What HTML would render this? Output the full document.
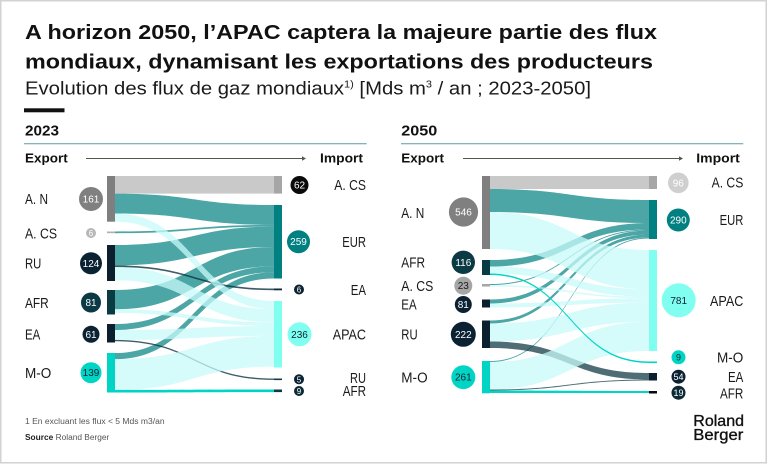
<!DOCTYPE html>
<html><head><meta charset="utf-8"><style>
html,body{margin:0;padding:0;background:#fff;}
svg{display:block;font-family:"Liberation Sans",Arial,sans-serif;}
</style></head><body>
<svg width="768" height="464" viewBox="0 0 768 464" xmlns="http://www.w3.org/2000/svg">
<rect x="0.75" y="0.75" width="765.5" height="462" fill="#fff" stroke="#d2d2d2" stroke-width="1.5"/>

<!-- Title -->
<text x="25" y="39" font-size="20" font-weight="bold" fill="#111" textLength="632" lengthAdjust="spacingAndGlyphs">A horizon 2050, l’APAC captera la majeure partie des flux</text>
<text x="25" y="68.3" font-size="20" font-weight="bold" fill="#111" textLength="628" lengthAdjust="spacingAndGlyphs">mondiaux, dynamisant les exportations des producteurs</text>
<text x="25" y="94.3" font-size="18.5" fill="#1a1a1a" textLength="566" lengthAdjust="spacingAndGlyphs">Evolution des flux de gaz mondiaux<tspan font-size="10" dy="-7">1)</tspan><tspan dy="7"> [Mds m</tspan><tspan font-size="10" dy="-7">3</tspan><tspan dy="7"> / an ;  2023-2050]</tspan></text>
<rect x="24" y="108.3" width="40.5" height="4" fill="#111"/>

<!-- Section headers -->
<text x="25" y="135.3" font-size="14.5" font-weight="bold" fill="#111" textLength="34" lengthAdjust="spacingAndGlyphs">2023</text>
<line x1="24" y1="143.7" x2="366.7" y2="143.7" stroke="#5a9ea2" stroke-width="1"/>
<text x="401.3" y="135.3" font-size="14.5" font-weight="bold" fill="#111" textLength="36" lengthAdjust="spacingAndGlyphs">2050</text>
<line x1="401" y1="143.7" x2="743.3" y2="143.7" stroke="#5a9ea2" stroke-width="1"/>

<text x="25" y="162.5" font-size="13" font-weight="bold" fill="#111" textLength="42.7" lengthAdjust="spacingAndGlyphs">Export</text>
<text x="320" y="162.5" font-size="13" font-weight="bold" fill="#111" textLength="43" lengthAdjust="spacingAndGlyphs">Import</text>
<line x1="86" y1="158.5" x2="304" y2="158.5" stroke="#555" stroke-width="1"/>
<path d="M306,158.5 L302,156.3 L302,160.7 Z" fill="#555"/>
<text x="401.3" y="162.5" font-size="13" font-weight="bold" fill="#111" textLength="42.7" lengthAdjust="spacingAndGlyphs">Export</text>
<text x="696.3" y="162.5" font-size="13" font-weight="bold" fill="#111" textLength="43.5" lengthAdjust="spacingAndGlyphs">Import</text>
<line x1="463" y1="158.5" x2="681" y2="158.5" stroke="#555" stroke-width="1"/>
<path d="M683,158.5 L679,156.3 L679,160.7 Z" fill="#555"/>

<!-- ===== 2023 flows ===== -->
<g>
<path d="M115,176 L274,176 L274,193.6 L115,193.6 Z" fill="#c9c9c9"/>
<g fill="#008080" fill-opacity="0.7">
<path d="M115,193.6 C194.5,193.6 194.5,205 274,205 L274,224.9 C194.5,224.9 194.5,213.5 115,213.5 Z"/>
<path d="M115,231.5 C194.5,231.5 194.5,224.9 274,224.9 L274,226.6 C194.5,226.6 194.5,233.2 115,233.2 Z"/>
<path d="M115,245 C194.5,245 194.5,226.6 274,226.6 L274,247 C194.5,247 194.5,265.4 115,265.4 Z"/>
<path d="M115,290 C194.5,290 194.5,247 274,247 L274,266.3 C194.5,266.3 194.5,309.3 115,309.3 Z"/>
<path d="M115,324 C194.5,324 194.5,266.3 274,266.3 L274,272.3 C194.5,272.3 194.5,330 115,330 Z"/>
<path d="M115,353 C194.5,353 194.5,272.3 274,272.3 L274,278.5 C194.5,278.5 194.5,359.2 115,359.2 Z"/>
</g>
<g fill="#0b3440" fill-opacity="0.8">
<path d="M115,265.4 C194.5,265.4 194.5,288.5 274,288.5 L274,290.2 C194.5,290.2 194.5,267.1 115,267.1 Z"/>
<path d="M115,339.9 C194.5,339.9 194.5,378.5 274,378.5 L274,379.9 C194.5,379.9 194.5,341.3 115,341.3 Z"/>
</g>
<g fill="#c7f9f8" fill-opacity="0.75">
<path d="M115,213.5 C194.5,213.5 194.5,301 274,301 L274,309.2 C194.5,309.2 194.5,221.7 115,221.7 Z"/>
<path d="M115,267.1 C194.5,267.1 194.5,309.2 274,309.2 L274,322.3 C194.5,322.3 194.5,280.2 115,280.2 Z"/>
<path d="M115,309.3 C194.5,309.3 194.5,322.3 274,322.3 L274,326 C194.5,326 194.5,313 115,313 Z"/>
<path d="M115,330 C194.5,330 194.5,326 274,326 L274,335.9 C194.5,335.9 194.5,339.9 115,339.9 Z"/>
<path d="M115,359.2 C194.5,359.2 194.5,335.9 274,335.9 L274,366.6 C194.5,366.6 194.5,389.9 115,389.9 Z"/>
</g>
<path d="M115,389.9 C194.5,389.9 194.5,389.5 274,389.5 L274,392.1 C194.5,392.1 194.5,392.5 115,392.5 Z" fill="#00d5c5"/>
</g>

<!-- 2023 nodes -->
<rect x="107" y="176" width="8" height="45.7" fill="#7f7f7f"/>
<rect x="107" y="231.5" width="8" height="1.7" fill="#b0b0b0"/>
<rect x="107" y="245" width="8" height="36" fill="#0b1f2e"/>
<rect x="107" y="290" width="8" height="24.5" fill="#083c42"/>
<rect x="107" y="324" width="8" height="18.5" fill="#0b1f2e"/>
<rect x="107" y="353" width="8" height="39.5" fill="#00d5c5"/>
<rect x="274" y="176" width="8" height="17.6" fill="#a6a6a6"/>
<rect x="274" y="205" width="8" height="73.5" fill="#008080"/>
<rect x="274" y="288.5" width="8" height="1.8" fill="#0b2a36"/>
<rect x="274" y="301" width="8" height="66.5" fill="#80fff0"/>
<rect x="274" y="378.5" width="8" height="1.6" fill="#1b3a48"/>
<rect x="274" y="389.5" width="8" height="2.6" fill="#0b3a44"/>

<!-- 2023 labels -->
<g font-size="15" fill="#1a1a1a">
<text x="25" y="204" textLength="23" lengthAdjust="spacingAndGlyphs">A. N</text>
<text x="25" y="238.5" textLength="32" lengthAdjust="spacingAndGlyphs">A. CS</text>
<text x="25" y="268.5" textLength="16.3" lengthAdjust="spacingAndGlyphs">RU</text>
<text x="25" y="308" textLength="23.7" lengthAdjust="spacingAndGlyphs">AFR</text>
<text x="25" y="339.5" textLength="15.3" lengthAdjust="spacingAndGlyphs">EA</text>
<text x="25" y="378" textLength="26.3" lengthAdjust="spacingAndGlyphs">M-O</text>
<text x="334.3" y="190" textLength="31.7" lengthAdjust="spacingAndGlyphs">A. CS</text>
<text x="342.3" y="247" textLength="23.7" lengthAdjust="spacingAndGlyphs">EUR</text>
<text x="350.7" y="295" textLength="15.3" lengthAdjust="spacingAndGlyphs">EA</text>
<text x="332.7" y="339.5" textLength="33.3" lengthAdjust="spacingAndGlyphs">APAC</text>
<text x="350" y="383" textLength="16" lengthAdjust="spacingAndGlyphs">RU</text>
<text x="342.7" y="396" textLength="23.3" lengthAdjust="spacingAndGlyphs">AFR</text>
</g>

<!-- 2023 circles -->
<g font-size="10" text-anchor="middle">
<circle cx="91" cy="199" r="12" fill="#808080"/><text x="91" y="202.5" fill="#fff">161</text>
<circle cx="91" cy="233" r="5" fill="#b8b8b8"/><text x="91" y="236" fill="#fff" font-size="8">6</text>
<circle cx="91" cy="263.3" r="11" fill="#0b2233"/><text x="91" y="266.8" fill="#fff">124</text>
<circle cx="91" cy="302.5" r="10" fill="#0b3a44"/><text x="91" y="306" fill="#fff">81</text>
<circle cx="91" cy="334.3" r="8.5" fill="#0b2233"/><text x="91" y="337.8" fill="#fff">61</text>
<circle cx="91" cy="372.7" r="10.5" fill="#00d5c5"/><text x="91" y="376.2" fill="#0b2233">139</text>
<circle cx="299.5" cy="185" r="9" fill="#0a0a0a"/><text x="299.5" y="188.5" fill="#fff">62</text>
<circle cx="298.5" cy="241.7" r="11.5" fill="#008080"/><text x="298.5" y="245.2" fill="#fff">259</text>
<circle cx="299" cy="289.5" r="5" fill="#0b2233"/><text x="299" y="292.5" fill="#fff" font-size="8">6</text>
<circle cx="299.5" cy="334.3" r="12" fill="#80fff0"/><text x="299.5" y="337.8" fill="#0b2233">236</text>
<circle cx="299" cy="379.3" r="5" fill="#0b2233"/><text x="299" y="382.3" fill="#fff" font-size="8">5</text>
<circle cx="299" cy="391" r="5" fill="#0b2a36"/><text x="299" y="394" fill="#fff" font-size="8">9</text>
</g>

<!-- ===== 2050 flows ===== -->
<g>
<path d="M490,176 L649,176 L649,189 L490,189 Z" fill="#c9c9c9"/>
<g fill="#008080" fill-opacity="0.7">
<path d="M490,189 C569.5,189 569.5,200 649,200 L649,223 C569.5,223 569.5,212 490,212 Z"/>
<path d="M490,260 C569.5,260 569.5,223 649,223 L649,229.5 C569.5,229.5 569.5,266.5 490,266.5 Z"/>
<path d="M490,284 C569.5,284 569.5,229.5 649,229.5 L649,230.5 C569.5,230.5 569.5,285 490,285 Z"/>
<path d="M490,299.5 C569.5,299.5 569.5,230.5 649,230.5 L649,234.5 C569.5,234.5 569.5,303.5 490,303.5 Z"/>
<path d="M490,320.5 C569.5,320.5 569.5,234.5 649,234.5 L649,237.5 C569.5,237.5 569.5,323.5 490,323.5 Z"/>
<path d="M490,361 C569.5,361 569.5,237.5 649,237.5 L649,238.5 C569.5,238.5 569.5,362 490,362 Z"/>
</g>
<g fill="#0b3440" fill-opacity="0.72">
<path d="M490,341.5 C569.5,341.5 569.5,373 649,373 L649,379.5 C569.5,379.5 569.5,348 490,348 Z"/>
<path d="M490,389.5 C569.5,389.5 569.5,379.5 649,379.5 L649,380.5 C569.5,380.5 569.5,390.5 490,390.5 Z"/>
</g>
<g fill="#c7f9f8" fill-opacity="0.75">
<path d="M490,212 C569.5,212 569.5,250 649,250 L649,289.3 C569.5,289.3 569.5,249 490,249 Z"/>
<path d="M490,266.5 C569.5,266.5 569.5,289.3 649,289.3 L649,296.7 C569.5,296.7 569.5,273.5 490,273.5 Z"/>
<path d="M490,285 C569.5,285 569.5,296.7 649,296.7 L649,298.3 C569.5,298.3 569.5,286.5 490,286.5 Z"/>
<path d="M490,303.5 C569.5,303.5 569.5,298.3 649,298.3 L649,302.6 C569.5,302.6 569.5,307.5 490,307.5 Z"/>
<path d="M490,323.5 C569.5,323.5 569.5,302.6 649,302.6 L649,321.7 C569.5,321.7 569.5,341.5 490,341.5 Z"/>
<path d="M490,362 C569.5,362 569.5,321.7 649,321.7 L649,351 C569.5,351 569.5,389.5 490,389.5 Z"/>
</g>
<g fill="#00d5c5">
<path d="M490,273.5 C569.5,273.5 569.5,361.5 649,361.5 L649,363 C569.5,363 569.5,275 490,275 Z"/>
<path d="M490,390.5 C569.5,390.5 569.5,391 649,391 L649,393 C569.5,393 569.5,393 490,393 Z"/>
</g>
</g>

<!-- 2050 nodes -->
<rect x="482" y="176" width="8" height="73" fill="#7f7f7f"/>
<rect x="482" y="260" width="8" height="15" fill="#083c42"/>
<rect x="482" y="284" width="8" height="2.5" fill="#a6a6a6"/>
<rect x="482" y="299.5" width="8" height="8" fill="#0b1f2e"/>
<rect x="482" y="320.5" width="8" height="27.5" fill="#0b1f2e"/>
<rect x="482" y="361" width="8" height="32.3" fill="#00d5c5"/>
<rect x="649" y="176" width="8" height="13" fill="#a6a6a6"/>
<rect x="649" y="200" width="8" height="39" fill="#008080"/>
<rect x="649" y="250" width="8" height="101" fill="#80fff0"/>
<rect x="649" y="361.5" width="8" height="1.6" fill="#00d5c5"/>
<rect x="649" y="373" width="8" height="7.5" fill="#0b1f2e"/>
<rect x="649" y="391" width="8" height="2.5" fill="#0a0a0a"/>

<!-- 2050 labels -->
<g font-size="15" fill="#1a1a1a">
<text x="401.3" y="218" textLength="23" lengthAdjust="spacingAndGlyphs">A. N</text>
<text x="401.3" y="267.5" textLength="23.7" lengthAdjust="spacingAndGlyphs">AFR</text>
<text x="401.3" y="291" textLength="32" lengthAdjust="spacingAndGlyphs">A. CS</text>
<text x="401.3" y="309.5" textLength="15.3" lengthAdjust="spacingAndGlyphs">EA</text>
<text x="401.3" y="339.5" textLength="16.3" lengthAdjust="spacingAndGlyphs">RU</text>
<text x="401.3" y="382.5" textLength="26.3" lengthAdjust="spacingAndGlyphs">M-O</text>
<text x="711.6" y="187.5" textLength="31.7" lengthAdjust="spacingAndGlyphs">A. CS</text>
<text x="719.6" y="225" textLength="23.7" lengthAdjust="spacingAndGlyphs">EUR</text>
<text x="710" y="306" textLength="33.3" lengthAdjust="spacingAndGlyphs">APAC</text>
<text x="717" y="362.5" textLength="26.3" lengthAdjust="spacingAndGlyphs">M-O</text>
<text x="728" y="382" textLength="15.3" lengthAdjust="spacingAndGlyphs">EA</text>
<text x="720" y="398.5" textLength="23.3" lengthAdjust="spacingAndGlyphs">AFR</text>
</g>

<!-- 2050 circles -->
<g font-size="10" text-anchor="middle">
<circle cx="463.5" cy="212" r="14.6" fill="#808080"/><text x="463.5" y="215.5" fill="#fff">546</text>
<circle cx="463.3" cy="262.3" r="11.7" fill="#0b3a44"/><text x="463.3" y="265.8" fill="#fff">116</text>
<circle cx="463.3" cy="285.7" r="9" fill="#a6a6a6"/><text x="463.3" y="289.2" fill="#1a1a1a">23</text>
<circle cx="463.3" cy="304.5" r="8.5" fill="#0b2233"/><text x="463.3" y="308" fill="#fff">81</text>
<circle cx="463.3" cy="334.3" r="12.5" fill="#0b2233"/><text x="463.3" y="337.8" fill="#fff">222</text>
<circle cx="463.3" cy="377.2" r="12" fill="#00d5c5"/><text x="463.3" y="380.7" fill="#0b2233">261</text>
<circle cx="678.3" cy="182.8" r="10.3" fill="#cfcfcf"/><text x="678.3" y="186.3" fill="#fff">96</text>
<circle cx="678.3" cy="220" r="11.5" fill="#008080"/><text x="678.3" y="223.5" fill="#fff">290</text>
<circle cx="678.7" cy="300.3" r="17" fill="#80fff0"/><text x="678.7" y="303.8" fill="#0b2233">781</text>
<circle cx="678.5" cy="357.3" r="7" fill="#00d5c5"/><text x="678.5" y="360.5" fill="#0b2233" font-size="9">9</text>
<circle cx="678.5" cy="376.7" r="7" fill="#0b2233"/><text x="678.5" y="379.9" fill="#fff" font-size="9">54</text>
<circle cx="678.5" cy="392.7" r="7" fill="#0b2a36"/><text x="678.5" y="395.9" fill="#fff" font-size="9">19</text>
</g>

<!-- Footnotes -->
<text x="25" y="424" font-size="8" fill="#555" textLength="139.6" lengthAdjust="spacingAndGlyphs">1 En excluant les flux &lt; 5 Mds m3/an</text>
<text x="25" y="440" font-size="8" fill="#555" textLength="84.3" lengthAdjust="spacingAndGlyphs"><tspan font-weight="bold" fill="#222">Source</tspan> Roland Berger</text>

<!-- Logo -->
<text x="693.3" y="426" font-size="15.5" fill="#111" stroke="#111" stroke-width="0.35" textLength="50.7" lengthAdjust="spacingAndGlyphs">Roland</text>
<text x="693.3" y="440" font-size="15.5" fill="#111" stroke="#111" stroke-width="0.35" textLength="50" lengthAdjust="spacingAndGlyphs">Berger</text>
</svg>
</body></html>
